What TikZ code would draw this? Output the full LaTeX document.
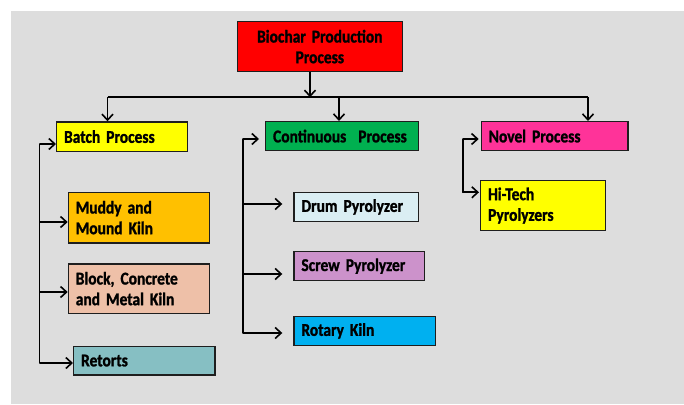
\documentclass[tikz,border=0pt]{standalone}
\usepackage{fontspec}
\setmainfont{Carlito}[FakeStretch=0.86, BoldFeatures={FakeBold=1.3}]
\usetikzlibrary{arrows.meta}
\definecolor{bggray}{HTML}{DDDDDD}
\definecolor{cred}{HTML}{FF0000}
\definecolor{cyellow}{HTML}{FFFF00}
\definecolor{cgreen}{HTML}{00B050}
\definecolor{cpink}{HTML}{FF3399}
\definecolor{corange}{HTML}{FFC000}
\definecolor{cpeach}{HTML}{EEC0A8}
\definecolor{cteal}{HTML}{86BFC3}
\definecolor{clight}{HTML}{DAEEF3}
\definecolor{cviolet}{HTML}{CC92CB}
\definecolor{cblue}{HTML}{00B0F0}
\definecolor{edge}{HTML}{1E1E1E}
\newcommand{\boxfont}{\bfseries\fontsize{18}{20.7}\selectfont\fontdimen2\font=3.6pt\fontdimen3\font=0pt\fontdimen4\font=0pt}
\tikzset{
  box/.style={draw=edge, line width=1.2pt, anchor=north west, inner xsep=7.5pt, inner ysep=0pt,
    align=left, font=\boxfont},
  line/.style={line width=1.8pt, black},
  arr/.style={line, -{Straight Barb[length=6pt,width=11pt,line width=1.6pt]}},
}
\begin{document}
\begin{tikzpicture}[x=1pt,y=-1pt]
\useasboundingbox (0,0) rectangle (684,404);
\fill[white] (0,0) rectangle (684,404);
\fill[bggray] (11,11) rectangle (684,404);

\node[box, fill=cred, minimum width=165pt, minimum height=50pt, text width=150pt, align=center] (title) at (236.7,21) {\mbox{Biochar Production}\\\mbox{Process}};

\node[box, fill=cyellow, minimum height=29.4pt, text width=115.7pt] (batch) at (56,121.3) {\mbox{Batch Process}};
\node[box, fill=cgreen, minimum height=29pt, text width=138pt] (cont) at (265,121) {\mbox{Continuous~~Process}};
\node[box, fill=cpink, minimum height=29pt, text width=131.6pt] (novel) at (480.7,121) {\mbox{Novel Process}};

\node[box, fill=corange, minimum height=50.6pt, text width=126.3pt] (muddy) at (67.7,191.7) {\mbox{Muddy and}\\\mbox{Mound Kiln}};
\node[box, fill=cpeach, minimum height=49.4pt, text width=126.3pt] (block) at (67.7,263.3) {\mbox{Block, Concrete}\\\mbox{and Metal Kiln}};
\node[box, fill=cteal, minimum height=28.6pt, text width=126.3pt] (retorts) at (73,345.7) {\mbox{Retorts}};

\node[box, fill=clight, minimum height=29.3pt, text width=109.7pt] (drum) at (293.3,191.7) {\mbox{Drum Pyrolyzer}};
\node[box, fill=cviolet, minimum height=29pt, text width=115.7pt] (screw) at (293.3,251) {\mbox{Screw Pyrolyzer}};
\node[box, fill=cblue, minimum height=29.3pt, text width=126.7pt] (rotary) at (293.3,315.7) {\mbox{Rotary Kiln}};

\node[box, fill=cyellow, minimum height=50pt, text width=109.7pt] (hitech) at (480,180) {\mbox{Hi-Tech}\\\mbox{Pyrolyzers}};

% top distribution
\coordinate (hub) at (310,97.3);
\coordinate (hl) at (107.5,97.3);
\coordinate (hm) at (339,97.3);
\coordinate (hr) at (588,97.3);
\draw[arr] (title.south -| hub) -- (hub);
\draw[line] (hl) -- (hr);
\draw[arr] (hl) -- (hl |- batch.north);
\draw[arr] (hm) -- (hm |- cont.north);
\draw[arr] (hr) -- (hr |- novel.north);

% batch column
\coordinate (ba) at (39.5,144);
\coordinate (bb) at (39.5,222);
\coordinate (bc) at (39.5,292);
\coordinate (bd) at (39.5,363);
\draw[line, line cap=round] (ba) -- (bd);
\draw[arr] (ba) -- (ba -| batch.west);
\draw[arr] (bb) -- (bb -| muddy.west);
\draw[arr] (bc) -- (bc -| block.west);
\draw[arr] (bd) -- (bd -| retorts.west);

% continuous column
\coordinate (ca) at (242.7,139);
\coordinate (cb) at (242.7,204);
\coordinate (cc) at (242.7,274);
\coordinate (cd) at (242.7,333);
\draw[line, line cap=round] (ca) -- (cd);
\draw[arr, shorten >=6pt] (ca) -- (ca -| cont.west);
\draw[arr, shorten >=11pt] (cb) -- (cb -| drum.west);
\draw[arr, shorten >=11pt] (cc) -- (cc -| screw.west);
\draw[arr, shorten >=11pt] (cd) -- (cd -| rotary.west);

% novel column
\coordinate (na) at (463.3,139);
\coordinate (nb) at (463.3,192.3);
\draw[line, line cap=round] (na) -- (nb);
\draw[arr, shorten >=2pt] (na) -- (na -| novel.west);
\draw[arr, shorten >=1pt] (nb) -- (nb -| hitech.west);
\end{tikzpicture}
\end{document}
